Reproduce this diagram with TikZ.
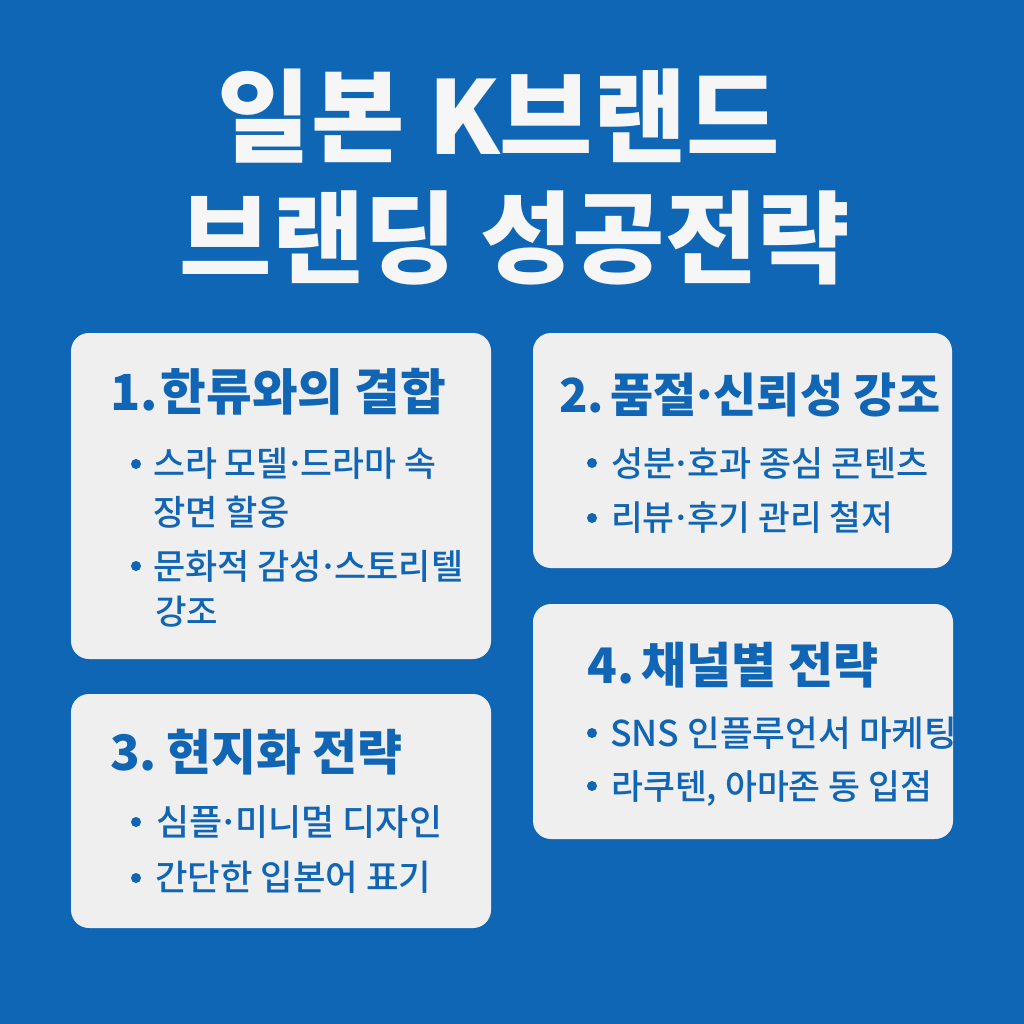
\documentclass[tikz,border=0pt]{standalone}
\usepackage{fontspec}
\usepackage{graphicx}
\setmainfont{Noto Sans CJK KR}
\newfontfamily\krm{Noto Sans CJK KR Medium}
\definecolor{bgblue}{HTML}{0E66B5}
\definecolor{card}{HTML}{F0EFEF}
\definecolor{ink}{HTML}{1065B4}
\definecolor{ttlwhite}{HTML}{F6F6F6}
\newcommand{\fitw}[2]{\resizebox{#1pt}{!}{#2}}
\newcommand{\dt}{\kern-.1em·\kern-.12em}
\tikzset{
  px/.style={x=1pt,y=-1pt},
  cardbox/.style={fill=card,rounded corners=18pt,draw=none},
  ttl/.style={text=ttlwhite,font=\fontsize{102}{104}\selectfont\bfseries,anchor=center,inner sep=0},
  head/.style={text=ink,font=\fontsize{48}{50}\selectfont\bfseries,anchor=west,inner sep=0},
  itm/.style={text=ink,font=\fontsize{36}{38}\selectfont\krm,anchor=west,inner sep=0},
  bul/.style={circle,fill=ink,minimum size=10pt,inner sep=0,draw=none},
}
\begin{document}
\begin{tikzpicture}[px]
\useasboundingbox (0,0) rectangle (1024,1024);
\fill[bgblue] (0,0) rectangle (1024,1024);
\node[ttl] (t1) at (499,116) {\fitw{562}{일본 K브랜드}};
\node[ttl] (t2) at (515,238) {\fitw{670}{브랜딩 성공전략}};
\fill[cardbox] (71,333) rectangle (491,659);
\fill[cardbox] (533,333) rectangle (952,568);
\fill[cardbox] (71,694) rectangle (491,928);
\fill[cardbox] (533,604) rectangle (953,839);
\node[head] (h1) at (110,392) {\fitw{336}{1.\kern-.25em{} 한류와의 결합}};
\node[head] (h2) at (559,395) {\fitw{381}{2.\kern-.18em{} 품절\kern-.12em·\kern-.12em신뢰성 강조}};
\node[head] (h3) at (110,752) {\fitw{292}{3.\kern-.12em{} 현지화 전략}};
\node[head] (h4) at (587,665) {\fitw{291}{4.\kern-.15em{} 채널별 전략}};
\node[bul] (ba1) at (136,464) {};
\node[itm] (a1) at (153,464) {\fitw{283}{스라 모델\dt 드라마 속}};
\node[itm] (a2) at (153,512) {\fitw{137}{장면 할웅}};
\node[bul] (ba3) at (136,566) {};
\node[itm] (a3) at (153,566) {\fitw{310}{문화적 감성\dt 스토리텔}};
\node[itm] (a4) at (155,612) {\fitw{63}{강조}};
\node[bul] (bb1) at (592,463) {};
\node[itm] (b1) at (611,463) {\fitw{317}{성분\dt 호과 종심 콘텐츠}};
\node[bul] (bb2) at (592,518) {};
\node[itm] (b2) at (611,518) {\fitw{282}{리뷰\dt 후기 관리 철저}};
\node[bul] (bc1) at (136,822) {};
\node[itm] (c1) at (156,822) {\fitw{286}{심플\dt 미니멀 디자인}};
\node[bul] (bc2) at (136,878) {};
\node[itm] (c2) at (155,877) {\fitw{276}{간단한 입본어 표기}};
\node[bul] (bd1) at (592,733) {};
\node[itm] (d1) at (610,733) {\fitw{347}{SNS 인플루언서 마케팅}};
\node[bul] (bd2) at (592,786) {};
\node[itm] (d2) at (611,789) {\fitw{321}{라쿠텐, 아마존 동 입점}};
\end{tikzpicture}
\end{document}
